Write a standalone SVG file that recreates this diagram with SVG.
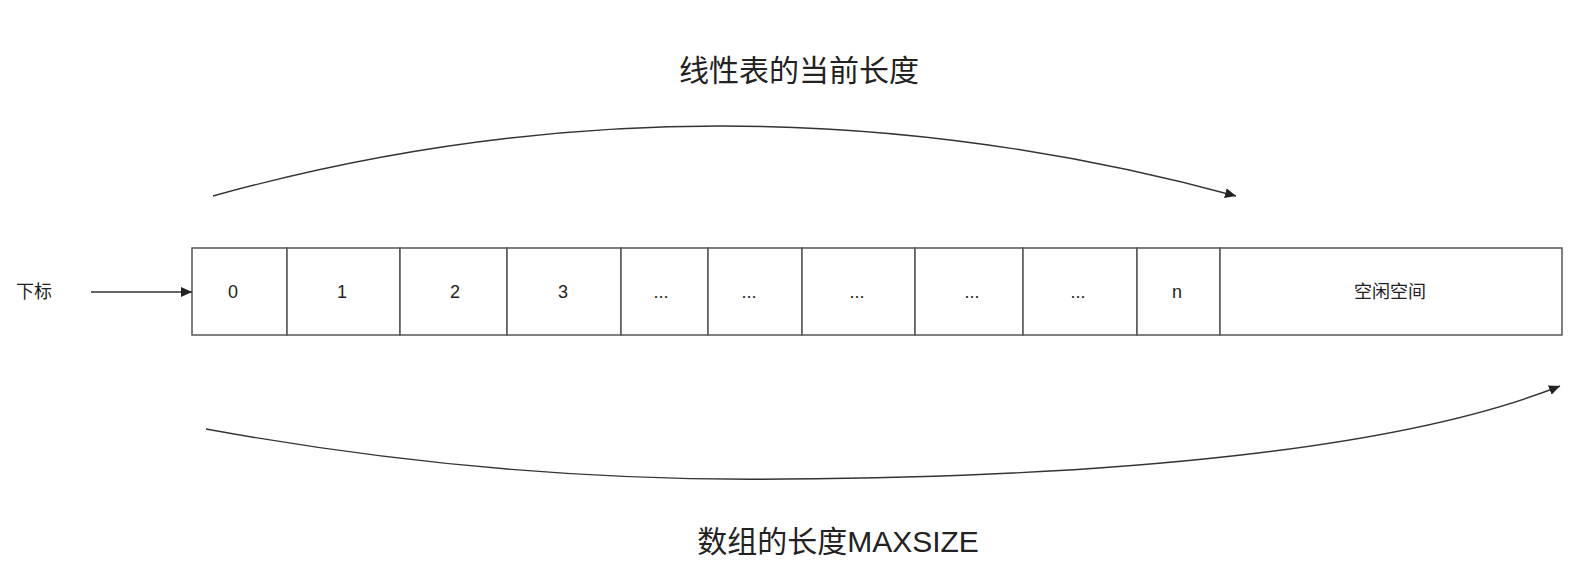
<svg xmlns="http://www.w3.org/2000/svg" width="1590" height="577" viewBox="0 0 1590 577">
<style>
.cell{fill:#fff;stroke:#555;stroke-width:1.5}
.t{font-family:"Liberation Sans","Noto Sans CJK SC",sans-serif;fill:#222;text-anchor:middle;dominant-baseline:central}
.s{font-size:18px}
.big{font-size:30px}
.edge{fill:none;stroke:#333;stroke-width:1.4}
</style>
<defs>
<marker id="ah" markerUnits="userSpaceOnUse" markerWidth="12" markerHeight="10" viewBox="0 0 12 10" refX="11" refY="5" orient="auto">
<path d="M0,0 L11,5 L0,10 Z" fill="#222"/>
</marker>
</defs>
<rect width="1590" height="577" fill="#fff"/>
<g id="label-xiabiao"><text class="t s" x="34" y="292">下标</text></g>
<g id="title-top"><text class="t big" x="799" y="70">线性表的当前长度</text></g>
<g id="title-bottom"><text class="t big" x="838" y="541">数组的长度MAXSIZE</text></g>
<g id="cell-0"><rect class="cell" x="192" y="248" width="95" height="87"/><text class="t s" x="233" y="292">0</text></g>
<g id="cell-1"><rect class="cell" x="287" y="248" width="113" height="87"/><text class="t s" x="342" y="292">1</text></g>
<g id="cell-2"><rect class="cell" x="400" y="248" width="107" height="87"/><text class="t s" x="455" y="292">2</text></g>
<g id="cell-3"><rect class="cell" x="507" y="248" width="114" height="87"/><text class="t s" x="563" y="292">3</text></g>
<g id="cell-4"><rect class="cell" x="621" y="248" width="87" height="87"/><text class="t s" x="661" y="292">...</text></g>
<g id="cell-5"><rect class="cell" x="708" y="248" width="94" height="87"/><text class="t s" x="749" y="292">...</text></g>
<g id="cell-6"><rect class="cell" x="802" y="248" width="113" height="87"/><text class="t s" x="857" y="292">...</text></g>
<g id="cell-7"><rect class="cell" x="915" y="248" width="108" height="87"/><text class="t s" x="972" y="292">...</text></g>
<g id="cell-8"><rect class="cell" x="1023" y="248" width="114" height="87"/><text class="t s" x="1078" y="292">...</text></g>
<g id="cell-n"><rect class="cell" x="1137" y="248" width="83" height="87"/><text class="t s" x="1177" y="292">n</text></g>
<g id="cell-free"><rect class="cell" x="1220" y="248" width="342" height="87"/><text class="t s" x="1390" y="292">空闲空间</text></g>
<g id="connectors">
<path class="edge" d="M91,292 L192,292" marker-end="url(#ah)"/>
<path class="edge" d="M213,196 Q718,56 1236,196" marker-end="url(#ah)"/>
<path class="edge" d="M206,429 C420,468 620,481 785,479 C1110,477 1400,450 1560,386" marker-end="url(#ah)"/>
</g>
</svg>
